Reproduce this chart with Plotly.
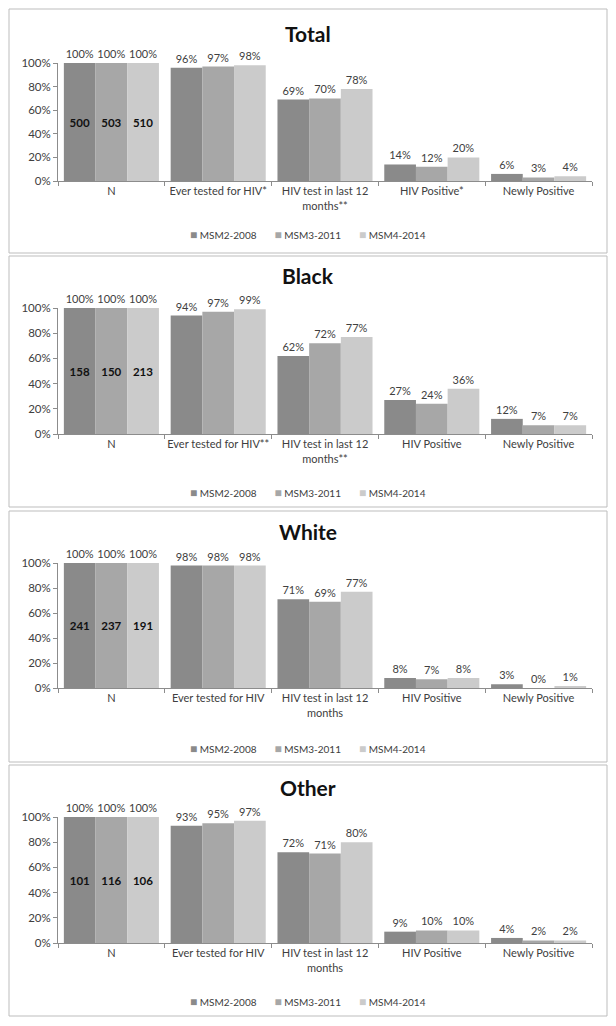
'''
    HIV testing among MSM by survey wave: Total, Black, White, Other.
'''

import plotly.graph_objects as go

from plotly.subplots import make_subplots


series_names = ["MSM2-2008", "MSM3-2011", "MSM4-2014"]
series_colors = ["#8a8a8a", "#a7a7a7", "#cbcbcb"]

panel_titles = ["Total", "Black", "White", "Other"]

total_categories = ["N", "Ever tested for HIV*", "HIV test in last 12<br>months**",
                    "HIV Positive*", "Newly Positive"]
black_categories = ["N", "Ever tested for HIV**", "HIV test in last 12<br>months**",
                    "HIV Positive", "Newly Positive"]
white_categories = ["N", "Ever tested for HIV", "HIV test in last 12<br>months",
                    "HIV Positive", "Newly Positive"]
other_categories = ["N", "Ever tested for HIV", "HIV test in last 12<br>months",
                    "HIV Positive", "Newly Positive"]

# percentages, one list per wave
total_2008 = [100, 96, 69, 14, 6]
total_2011 = [100, 97, 70, 12, 3]
total_2014 = [100, 98, 78, 20, 4]
total_n = [500, 503, 510]

black_2008 = [100, 94, 62, 27, 12]
black_2011 = [100, 97, 72, 24, 7]
black_2014 = [100, 99, 77, 36, 7]
black_n = [158, 150, 213]

white_2008 = [100, 98, 71, 8, 3]
white_2011 = [100, 98, 69, 7, 0]
white_2014 = [100, 98, 77, 8, 1]
white_n = [241, 237, 191]

other_2008 = [100, 93, 72, 9, 4]
other_2011 = [100, 95, 71, 10, 2]
other_2014 = [100, 97, 80, 10, 2]
other_n = [101, 116, 106]

panels = [
    (total_categories, [total_2008, total_2011, total_2014], total_n),
    (black_categories, [black_2008, black_2011, black_2014], black_n),
    (white_categories, [white_2008, white_2011, white_2014], white_n),
    (other_categories, [other_2008, other_2011, other_2014], other_n),
]

W, H = 616, 1026
FONT = "Lato"
TXT = "#404040"

# pixel layout of each panel: box top, box bottom, plot top, plot bottom, title y, legend y
layout_px = [
    (9, 253, 63, 181, 33, 235),
    (256, 507, 308, 434, 275, 492),
    (511, 762, 563, 688, 531, 748),
    (765, 1016, 817, 943, 787, 1001),
]


def py(v):
    return 1 - v / H


def px(v):
    return v / W


fig = make_subplots(rows=4, cols=1)

for i, (cats, values, counts) in enumerate(panels):
    row = i + 1
    for j, name in enumerate(series_names):
        ys = [v / 100 for v in values[j]]
        fig.add_trace(go.Bar(
            x=cats, y=ys,
            name=name,
            marker=dict(color=series_colors[j], line=dict(width=0)),
            text=["%d%%" % v for v in values[j]],
            textposition="outside",
            textfont=dict(family=FONT, size=11, color=TXT),
            constraintext="none",
            cliponaxis=False,
            offsetgroup=str(j),
            showlegend=False,
            hoverinfo="x+y"),
            row=row, col=1,
        )
        # sample size written inside the N bar
        fig.add_trace(go.Bar(
            x=cats[:1], y=ys[:1],
            marker=dict(color="rgba(0,0,0,0)", line=dict(width=0)),
            text=[str(counts[j])],
            textposition="inside",
            insidetextanchor="middle",
            textfont=dict(family=FONT, size=11.5, color="#111111", weight="bold"),
            constraintext="none",
            offsetgroup=str(j),
            showlegend=False,
            hoverinfo="skip"),
            row=row, col=1,
        )

    box_top, box_bot, plot_top, plot_bot, title_y, legend_y = layout_px[i]
    xa = "xaxis" if i == 0 else "xaxis%d" % row
    ya = "yaxis" if i == 0 else "yaxis%d" % row
    fig.update_layout({
        xa: dict(domain=[px(58), px(592)], tickson="boundaries", ticks="outside",
                 ticklen=4, tickcolor="#8c8c8c", showline=True, linecolor="#8c8c8c",
                 showgrid=False, tickangle=0,
                 tickfont=dict(family=FONT, size=11, color=TXT)),
        ya: dict(domain=[py(plot_bot), py(plot_top)], range=[0, 1], tickformat=".0%",
                 dtick=0.2, ticks="outside", ticklen=4, tickcolor="#8c8c8c",
                 showline=True, linecolor="#8c8c8c", showgrid=False, zeroline=False,
                 tickfont=dict(family=FONT, size=11.5, color=TXT)),
    })
    fig.add_shape(type="rect", xref="paper", yref="paper",
                  x0=px(9), x1=px(607), y0=py(box_bot), y1=py(box_top),
                  line=dict(color="#bdbdbd", width=1))
    fig.add_annotation(text="<b>%s</b>" % panel_titles[i], xref="paper", yref="paper",
                       x=0.5, y=py(title_y), xanchor="center", yanchor="middle",
                       showarrow=False, font=dict(family=FONT, size=21, color="#111111"))
    # Excel-style legend: small squares packed close to their labels
    legend_text = "\u00a0" * 7
    legend_text = legend_text.join(
        "<span style='color:%s;font-size:12px'>\u25a0</span>\u00a0%s" % (c, n)
        for c, n in zip(series_colors, series_names))
    fig.add_annotation(text=legend_text, xref="paper", yref="paper",
                       x=0.5, y=py(legend_y), xanchor="center", yanchor="middle",
                       showarrow=False, font=dict(family=FONT, size=10, color=TXT))

fig.update_layout(
    width=W, height=H,
    margin=dict(l=0, r=0, t=0, b=0, autoexpand=False),
    barmode="group", bargap=0.11, bargroupgap=0,
    plot_bgcolor="white", paper_bgcolor="white",
    template="plotly_white",
    showlegend=False,
)

fig.write_html("out.html", config={"displayModeBar": False},
               post_script="document.body.style.margin='0';")
